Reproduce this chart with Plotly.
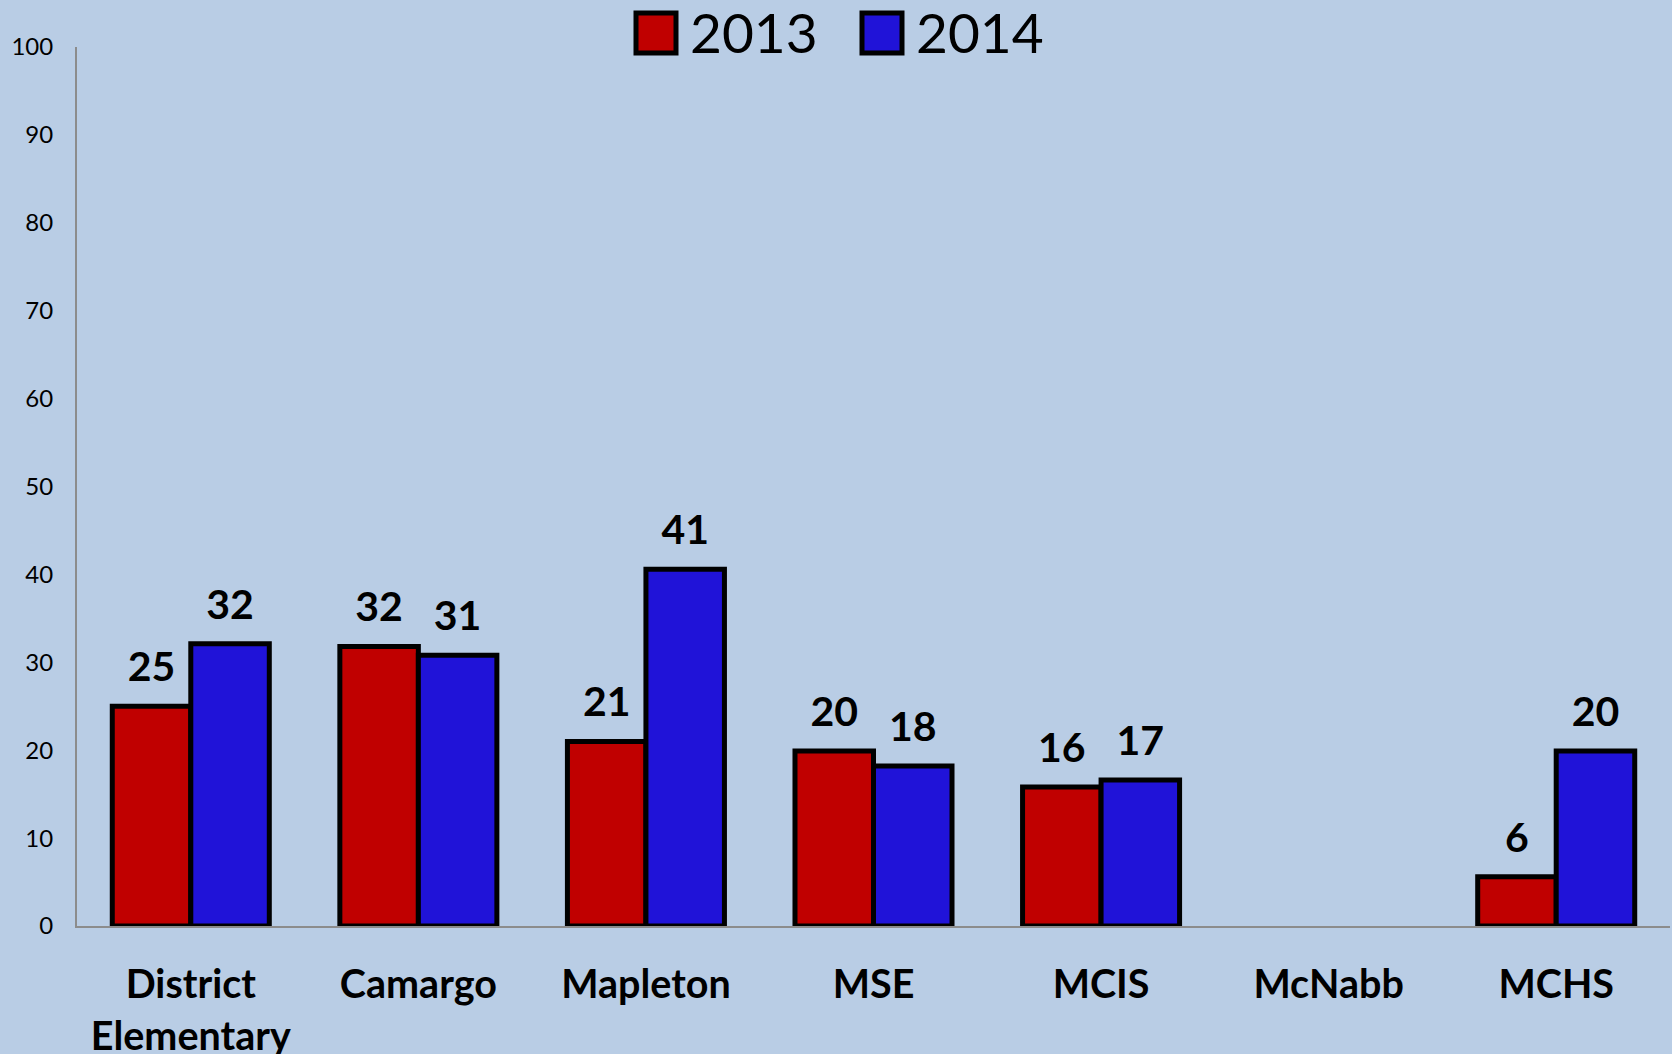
import plotly.graph_objects as go

# dados
escolas = ['District<br>Elementary', 'Camargo', 'Mapleton', 'MSE', 'MCIS', 'McNabb', 'MCHS']
v2013 = [25.0, 31.8, 21.0, 19.9, 15.8, None, 5.6]
v2014 = [32.1, 30.8, 40.6, 18.2, 16.6, None, 19.9]
y_ticks = list(range(0, 101, 10))

vermelho = '#C00000'
azul = '#2013D8'
fundo = '#B9CDE5'

fig = go.Figure()

# barras
for nome, vals, cor in [('2013', v2013, vermelho), ('2014', v2014, azul)]:
    fig.add_trace(go.Bar(
        x=escolas, y=vals, name=nome, offsetgroup=nome,
        marker=dict(color=cor, line=dict(color='black', width=5)),
        showlegend=False, hoverinfo='skip'
    ))

# rótulos de dados (marcador invisível só para afastar o texto da barra)
for nome, vals in [('2013', v2013), ('2014', v2014)]:
    fig.add_trace(go.Scatter(
        x=escolas, y=vals, offsetgroup=nome, mode='markers+text',
        text=[None if v is None else f'{round(v):d}' for v in vals],
        textposition='top center',
        textfont=dict(family='Lato', size=41, color='black', weight='bold'),
        marker=dict(size=22, opacity=0),
        showlegend=False, cliponaxis=False, hoverinfo='skip'
    ))

# legenda manual (símbolos grandes)
W = 1672 - 77 - 2
H = 926 - 47
def px(x):
    return (x - 77) / W
def py(y):
    return (926 - y) / H

for x0, cor, txt in [(636, vermelho, '2013'), (862, azul, '2014')]:
    fig.add_shape(type='rect', xref='paper', yref='paper',
                  x0=px(x0), x1=px(x0 + 40), y0=py(53), y1=py(13),
                  fillcolor=cor, line=dict(color='black', width=5))
    fig.add_annotation(xref='paper', yref='paper', x=px(x0 + 52), y=py(32),
                       text=txt, showarrow=False, xanchor='left', yanchor='middle',
                       font=dict(family='Lato', size=55, color='black'))

fig.update_layout(
    width=1672, height=1054,
    paper_bgcolor=fundo, plot_bgcolor=fundo,
    margin=dict(l=77, r=2, t=47, b=128),
    bargap=0.31, bargroupgap=0,
    scattermode='group', scattergap=0.31,
    showlegend=False,
    font=dict(family='Lato', color='black')
)

fig.update_xaxes(
    showline=True, linecolor='#8C8C8C', linewidth=2, automargin=False,
    tickfont=dict(family='Lato', size=39.5, color='black', weight='bold'),
    ticks='', ticklabelstandoff=23, showgrid=False
)
fig.update_yaxes(
    range=[0, 100], tickvals=y_ticks, showgrid=False, zeroline=False,
    showline=True, linecolor='#8C8C8C', linewidth=2, automargin=False,
    tickfont=dict(family='Lato', size=24, color='black'),
    ticks='', ticklabelstandoff=17
)

fig.write_html('out.html', config={'displayModeBar': False},
               post_script="document.body.style.margin='0';document.body.style.overflow='hidden';")
